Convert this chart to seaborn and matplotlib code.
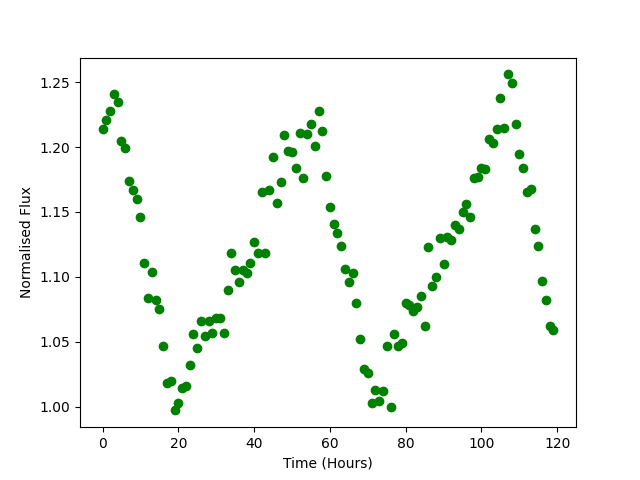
import matplotlib
matplotlib.use("Agg")
import matplotlib.pyplot as plt
import pandas as pd
import seaborn as sns

hours = list(range(120))
flux = [
    1.214, 1.221, 1.228, 1.241, 1.235, 1.205, 1.199, 1.174, 1.167, 1.160,
    1.146, 1.111, 1.084, 1.104, 1.082, 1.075, 1.047, 1.018, 1.020, 0.997,
    1.003, 1.014, 1.016, 1.032, 1.056, 1.045, 1.066, 1.054, 1.066, 1.057,
    1.068, 1.068, 1.057, 1.090, 1.118, 1.105, 1.096, 1.105, 1.103, 1.111,
    1.127, 1.118, 1.165, 1.118, 1.167, 1.192, 1.157, 1.173, 1.209, 1.197,
    1.196, 1.184, 1.211, 1.176, 1.210, 1.218, 1.201, 1.228, 1.212, 1.178,
    1.154, 1.141, 1.134, 1.124, 1.106, 1.096, 1.103, 1.080, 1.052, 1.029,
    1.026, 1.003, 1.013, 1.004, 1.012, 1.047, 1.000, 1.056, 1.047, 1.049,
    1.080, 1.078, 1.074, 1.077, 1.085, 1.062, 1.123, 1.093, 1.100, 1.130,
    1.110, 1.131, 1.128, 1.140, 1.137, 1.150, 1.156, 1.146, 1.176, 1.177,
    1.184, 1.183, 1.206, 1.203, 1.214, 1.238, 1.215, 1.256, 1.249, 1.218,
    1.195, 1.184, 1.165, 1.168, 1.137, 1.124, 1.097, 1.082, 1.062, 1.059,
]

df = pd.DataFrame({"hours": hours, "flux": flux})

fig, ax = plt.subplots(figsize=(6.4, 4.8), dpi=100)
sns.scatterplot(data=df, x="hours", y="flux", color="green",
                edgecolor="green", linewidth=1, s=36, ax=ax)
ax.set_xlabel("Time (Hours)")
ax.set_ylabel("Normalised Flux")
fig.savefig("out.png", dpi=100)
